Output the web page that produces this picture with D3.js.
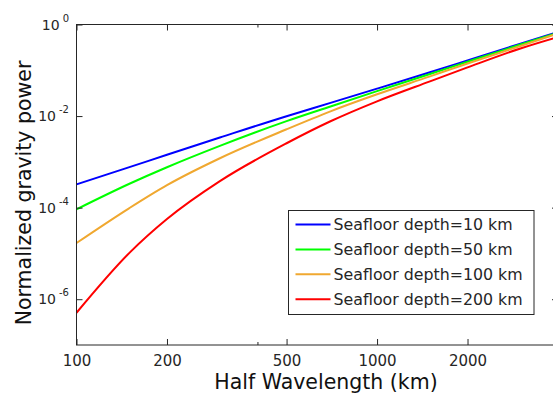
<!DOCTYPE html>
<html>
<head>
<meta charset="utf-8">
<script src="https://cdn.jsdelivr.net/npm/d3@7"></script>
<style>
  body { margin: 0; background: #fff; }
  svg { display: block; font-family: "DejaVu Sans", Verdana, sans-serif; }
</style>
</head>
<body>
<div id="chart"></div>
<script>

// half wavelength (km)
var halfWavelength = [100, 150, 200, 300, 500, 700, 1000, 1500, 2000, 3000, 4000];

// normalized gravity power for each seafloor depth
var depth10  = [3.22e-4, 7.67e-4, 1.43e-3, 3.40e-3, 9.95e-3, 0.0194, 0.0397, 0.0904, 0.164, 0.380, 0.682];
var depth50  = [9.18e-5, 3.32e-4, 7.62e-4, 2.23e-3, 7.74e-3, 0.0162, 0.0351, 0.0830, 0.154, 0.365, 0.663];
var depth100 = [1.69e-5, 9.80e-5, 3.10e-4, 1.20e-3, 5.15e-3, 0.0127, 0.0299, 0.0736, 0.141, 0.340, 0.637];
var depth200 = [5.06e-7, 1.03e-5, 5.65e-5, 3.80e-4, 2.55e-3, 0.0077, 0.0210, 0.0573, 0.1156, 0.300, 0.534];

var seriesLabels = ['Seafloor depth=10 km', 'Seafloor depth=50 km', 'Seafloor depth=100 km', 'Seafloor depth=200 km'];
var seriesColors = ['#0000ff', '#00ff00', '#f0a830', '#ff0000'];

var xTickValues = [100, 200, 500, 1000, 2000];
var xMinorTicks = [400];
var yTickExponents = [0, -2, -4, -6];

;(function(d3){

    'use strict';

    var width = 553, height = 396;
    var left = 76.5, right = 558, top = 24.5, bottom = 345;

    var svg = d3.select('#chart').append('svg')
        .attr('width', width)
        .attr('height', height);

    var x = d3.scaleLog().domain([100, 4000]).range([left, right]);
    var y = d3.scaleLog().domain([1e-7, 1]).range([bottom, top]);

    var series = [depth10, depth50, depth100, depth200].map(function(vals, i){
        return {
            label: seriesLabels[i],
            color: seriesColors[i],
            points: vals.map(function(v, j){ return [halfWavelength[j], v]; })
        };
    });

    svg.append('clipPath').attr('id', 'plotClip')
        .append('rect')
        .attr('x', left).attr('y', top)
        .attr('width', right - left).attr('height', bottom - top);

    var line = d3.line()
        .x(function(d){ return x(d[0]); })
        .y(function(d){ return y(d[1]); })
        .curve(d3.curveMonotoneX);

    svg.append('g').attr('clip-path', 'url(#plotClip)')
        .selectAll('path')
        .data(series)
        .enter().append('path')
        .attr('d', function(d){ return line(d.points); })
        .attr('fill', 'none')
        .attr('stroke', function(d){ return d.color; })
        .attr('stroke-width', 2);

    // axes box with inward ticks
    var axisColor = '#262626';

    var xBottom = svg.append('g')
        .attr('transform', 'translate(0,' + bottom + ')')
        .call(d3.axisBottom(x).tickValues(xTickValues).tickSize(-6).tickPadding(10)
            .tickFormat(d3.format('d')));

    svg.append('g')
        .attr('transform', 'translate(0,' + bottom + ')')
        .call(d3.axisBottom(x).tickValues(xMinorTicks).tickSize(-3).tickFormat(''));

    svg.append('g')
        .attr('transform', 'translate(0,' + top + ')')
        .call(d3.axisTop(x).tickValues(xTickValues).tickSize(-6).tickFormat(''));

    svg.append('g')
        .attr('transform', 'translate(0,' + top + ')')
        .call(d3.axisTop(x).tickValues(xMinorTicks).tickSize(-3).tickFormat(''));

    var yTickValues = yTickExponents.map(function(e){ return Math.pow(10, e); });

    svg.append('g')
        .attr('transform', 'translate(' + left + ',0)')
        .call(d3.axisLeft(y).tickValues(yTickValues).tickSize(-6).tickFormat(''));

    svg.append('g')
        .attr('transform', 'translate(' + right + ',0)')
        .call(d3.axisRight(y).tickValues(yTickValues).tickSize(-6).tickFormat(''));

    svg.selectAll('.domain').remove();
    svg.selectAll('.tick line').attr('stroke', axisColor);

    xBottom.selectAll('text')
        .attr('fill', axisColor)
        .style('font-size', '15px')
        .style('font-family', '"DejaVu Sans", Verdana, sans-serif');

    svg.append('rect')
        .attr('x', left).attr('y', top)
        .attr('width', right - left).attr('height', bottom - top)
        .attr('fill', 'none')
        .attr('stroke', axisColor)
        .attr('stroke-width', 1);

    // y tick labels as 10^n
    var yLabels = svg.append('g').selectAll('text')
        .data(yTickExponents)
        .enter().append('text')
        .attr('x', 69)
        .attr('y', function(e){ return y(Math.pow(10, e)) + 5; })
        .attr('text-anchor', 'end')
        .attr('fill', axisColor)
        .style('font-size', '14px');

    yLabels.append('tspan').text('10');
    yLabels.append('tspan')
        .attr('dx', 3)
        .attr('dy', -8)
        .style('font-size', '10px')
        .text(function(e){ return e === 0 ? '0' : '-' + Math.abs(e); });

    // axis titles
    svg.append('text')
        .attr('x', 326)
        .attr('y', 389)
        .attr('text-anchor', 'middle')
        .attr('fill', '#111')
        .style('font-size', '20.5px')
        .text('Half Wavelength (km)');

    svg.append('text')
        .attr('transform', 'translate(31,193) rotate(-90)')
        .attr('text-anchor', 'middle')
        .attr('fill', '#111')
        .style('font-size', '20.5px')
        .text('Normalized gravity power');

    // legend
    var legend = svg.append('g').attr('transform', 'translate(288.5,210.5)');

    legend.append('rect')
        .attr('width', 245.5).attr('height', 104)
        .attr('fill', '#fff')
        .attr('stroke', axisColor)
        .attr('stroke-width', 1);

    var rows = legend.selectAll('g.row')
        .data(series)
        .enter().append('g')
        .attr('class', 'row')
        .attr('transform', function(d, i){ return 'translate(0,' + (14 + i * 24.9) + ')'; });

    rows.append('line')
        .attr('x1', 7).attr('x2', 42)
        .attr('stroke', function(d){ return d.color; })
        .attr('stroke-width', 2);

    rows.append('text')
        .attr('x', 45)
        .attr('y', 5.5)
        .attr('fill', '#262626')
        .style('font-size', '15.8px')
        .text(function(d){ return d.label; });

}(window.d3));
</script>
</body>
</html>
